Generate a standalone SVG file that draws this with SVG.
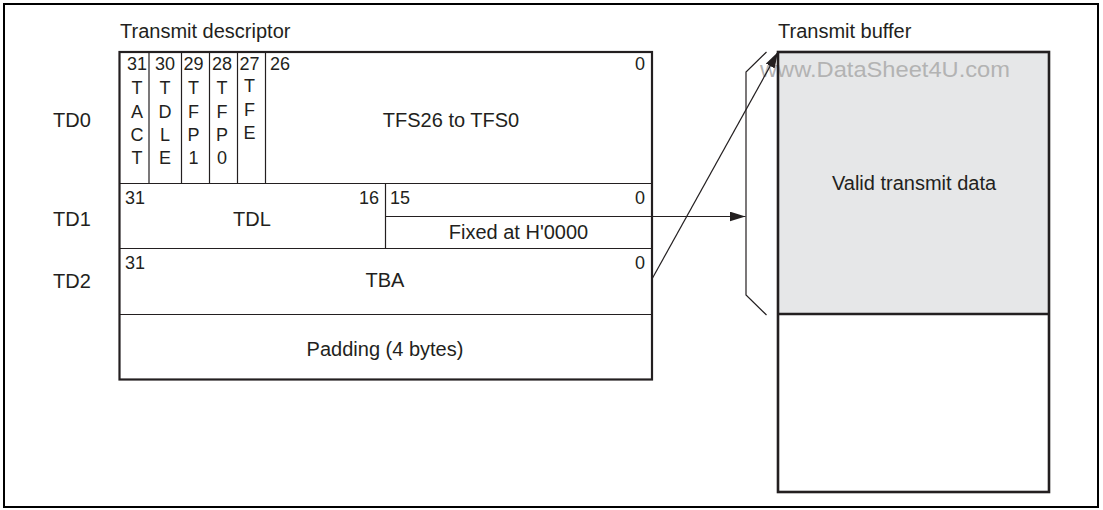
<svg xmlns="http://www.w3.org/2000/svg" width="1103" height="510" viewBox="0 0 1103 510">
<defs>
<style>
text{font-family:"Liberation Sans",Arial,sans-serif;fill:#231f20}
.l{font-size:20px}
.b{font-size:18px}
.c{text-anchor:middle}
.r{text-anchor:end}
.thin{stroke:#231f20;stroke-width:1.2;fill:none}
.thick{stroke:#231f20;stroke-width:2.2;fill:none}
.wm{font-size:22px;fill:#b3b3b3}
</style>
<marker id="ah" markerWidth="16" markerHeight="10" refX="16" refY="5" orient="auto" markerUnits="userSpaceOnUse">
<path d="M0,0 L16,5 L0,10 Z" fill="#231f20"/>
</marker>
</defs>
<rect width="1103" height="510" fill="#ffffff"/>
<rect x="4" y="4" width="1094" height="503" fill="none" stroke="#000" stroke-width="2"/>

<g id="labels">
<text class="l" x="120" y="38">Transmit descriptor</text>
<text class="l" x="778" y="38">Transmit buffer</text>
<text class="l" x="53" y="127">TD0</text>
<text class="l" x="53" y="226">TD1</text>
<text class="l" x="53" y="288">TD2</text>
</g>

<g id="TD0">
<line class="thin" x1="149" y1="52" x2="149" y2="183"/>
<line class="thin" x1="181.5" y1="52" x2="181.5" y2="183"/>
<line class="thin" x1="209.5" y1="52" x2="209.5" y2="183"/>
<line class="thin" x1="237.5" y1="52" x2="237.5" y2="183"/>
<line class="thin" x1="265.5" y1="52" x2="265.5" y2="183"/>
<text class="b c" x="137" y="70">31</text>
<text class="b c" x="165" y="70">30</text>
<text class="b c" x="193.5" y="70">29</text>
<text class="b c" x="222" y="70">28</text>
<text class="b c" x="249.5" y="70">27</text>
<text class="b" x="270" y="70">26</text>
<text class="b r" x="645" y="70">0</text>
<text class="b c" x="137" y="94">T</text>
<text class="b c" x="137" y="117.5">A</text>
<text class="b c" x="137" y="141">C</text>
<text class="b c" x="137" y="164">T</text>
<text class="b c" x="165" y="94">T</text>
<text class="b c" x="165" y="117.5">D</text>
<text class="b c" x="165" y="141">L</text>
<text class="b c" x="165" y="164">E</text>
<text class="b c" x="193.5" y="94">T</text>
<text class="b c" x="193.5" y="117.5">F</text>
<text class="b c" x="193.5" y="141">P</text>
<text class="b c" x="193.5" y="164">1</text>
<text class="b c" x="222" y="94">T</text>
<text class="b c" x="222" y="117.5">F</text>
<text class="b c" x="222" y="141">P</text>
<text class="b c" x="222" y="164">0</text>
<text class="b c" x="249.5" y="92">T</text>
<text class="b c" x="249.5" y="115.5">F</text>
<text class="b c" x="249.5" y="139">E</text>
<text class="l c" x="451" y="127">TFS26 to TFS0</text>
</g>

<g id="TD1">
<line class="thin" x1="119" y1="183.5" x2="652" y2="183.5"/>
<line class="thin" x1="385.5" y1="183.5" x2="385.5" y2="248.5"/>
<text class="b" x="125" y="203.5">31</text>
<text class="b r" x="379" y="203.5">16</text>
<text class="b" x="390" y="203.5">15</text>
<text class="b r" x="645" y="203.5">0</text>
<text class="l c" x="252" y="226">TDL</text>
<text class="l c" x="518.5" y="239">Fixed at H'0000</text>
</g>

<g id="TD2">
<line class="thin" x1="119" y1="248.5" x2="652" y2="248.5"/>
<text class="b" x="125" y="268.5">31</text>
<text class="b r" x="645" y="268.5">0</text>
<text class="l c" x="385" y="287">TBA</text>
</g>

<g id="padding">
<line class="thin" x1="119" y1="314.5" x2="652" y2="314.5" stroke-width="1.6"/>
<text class="l c" x="385" y="356">Padding (4 bytes)</text>
</g>

<g id="descriptor-frame">
<rect class="thick" x="119.5" y="52" width="532.5" height="327.5"/>
</g>

<g id="buffer">
<rect x="778" y="52" width="271" height="262" fill="#e6e7e8"/>
<text class="wm c" x="885" y="77" textLength="250" lengthAdjust="spacingAndGlyphs">www.DataSheet4U.com</text>
<text class="l c" x="914" y="190">Valid transmit data</text>
<line x1="778" y1="314" x2="1049" y2="314" stroke="#231f20" stroke-width="2.6"/>
<rect x="778" y="52" width="271" height="440" fill="none" stroke="#231f20" stroke-width="2.6"/>
</g>

<g id="bracket">
<path class="thin" d="M766.5,52 L746,72 L746,295 L766.5,315"/>
</g>

<g id="connectors">
<line class="thin" x1="386" y1="216.5" x2="745.5" y2="216.5" marker-end="url(#ah)"/>
<line class="thin" x1="652" y1="279" x2="778" y2="52" marker-end="url(#ah)"/>
</g>
</svg>
